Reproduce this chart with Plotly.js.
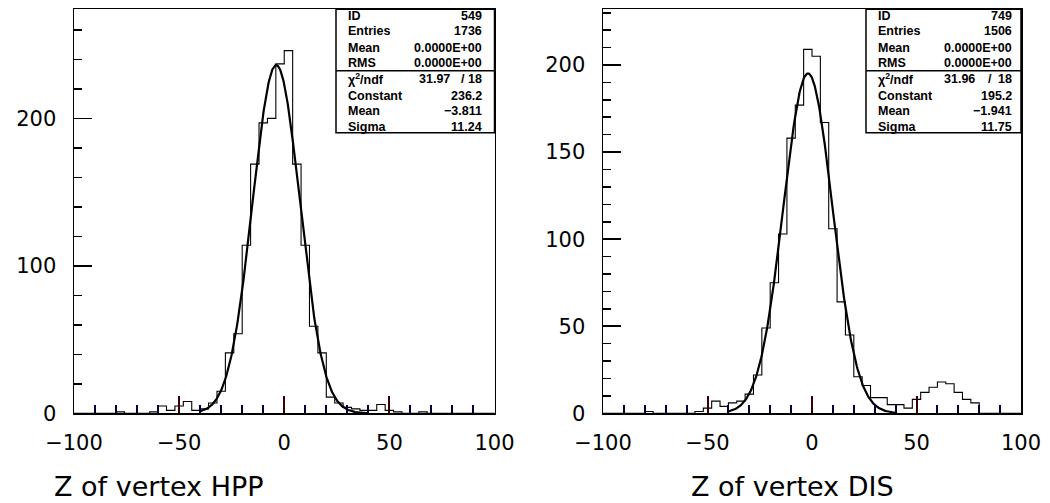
<!DOCTYPE html>
<html>
<head>
<meta charset="utf-8">
<script src="https://cdn.plot.ly/plotly-3.0.1.min.js"></script>
<style>html,body{margin:0;padding:0;background:#fff;}#chart{width:1050px;height:503px;}</style>
</head>
<body>
<div id="chart"></div>
<script>
// ---- Data ----
const binLow = -100;
const binWidth = 4;
// 50 bins from -100 to 100 (width 4)
const hppCounts = [0,0,0,0,0, 1,0,0,0,1, 5,2,5,8,2, 3,7,15,41,54, 114,169,197,200,237, 246,169,114,59,41, 11,7,4,3,2, 2,6,2,1,0, 0,1,0,0,0, 0,0,0,0,0];
const disCounts = [0,0,0,0,0, 1,0,0,0,0, 0,1,3,7,4, 6,7,11,22,49, 75,103,158,177,209, 205,167,106,64,45, 21,16,9,9,5, 5,3,8,12,15, 18,17,12,8,6, 0,0,0,0,0];
const hppFit = {constant: 236.2, mean: -3.811, sigma: 11.24};
const disFit = {constant: 195.2, mean: -1.941, sigma: 11.75};
const fitRange = [-40, 40];
const hppStats = [["ID","549"],["Entries","1736"],["Mean","0.0000E+00"],["RMS","0.0000E+00"]];
const disStats = [["ID","749"],["Entries","1506"],["Mean","0.0000E+00"],["RMS","0.0000E+00"]];
const hppChi = ["31.97","18"];
const disChi = ["31.96","18"];
const hppFitRows = [["Constant","236.2"],["Mean","-3.811"],["Sigma","11.24"]];
const disFitRows = [["Constant","195.2"],["Mean","-1.941"],["Sigma","11.75"]];
const xTitles = ["Z of vertex HPP", "Z of vertex DIS"];

// ---- helpers ----
const W = 1050, H = 503;
const px = x => x / W;
const py = y => 1 - y / H;

function stepTrace(counts, xa, ya) {
  const xs = [], ys = [];
  for (let i = 0; i < counts.length; i++) { xs.push(binLow + i * binWidth); ys.push(counts[i]); }
  xs.push(binLow + counts.length * binWidth); ys.push(counts[counts.length - 1]);
  return {x: xs, y: ys, type: 'scatter', mode: 'lines', line: {shape: 'hv', color: '#000', width: 1.1}, xaxis: xa, yaxis: ya, hoverinfo: 'skip'};
}
function fitTrace(p, xa, ya) {
  const xs = [], ys = [];
  for (let x = fitRange[0]; x <= fitRange[1] + 1e-9; x += 0.25) {
    xs.push(x); ys.push(p.constant * Math.exp(-0.5 * Math.pow((x - p.mean) / p.sigma, 2)));
  }
  return {x: xs, y: ys, type: 'scatter', mode: 'lines', line: {color: '#000', width: 2.2}, xaxis: xa, yaxis: ya, hoverinfo: 'skip'};
}

const tickFont = {family: 'DejaVu Sans', size: 21, color: '#000'};
function xAxis(l, r, ya) {
  return {domain: [px(l), px(r)], range: [-100, 100], tick0: 0, dtick: 50, ticks: 'inside', ticklen: 17, tickwidth: 2, tickcolor: '#3a0000',
    minor: {dtick: 10, ticks: 'inside', ticklen: 8, tickwidth: 2, tickcolor: '#00003a'},
    showline: true, mirror: true, linecolor: '#000', linewidth: 1.5, showgrid: false, zeroline: false,
    tickfont: tickFont, ticklabelstandoff: 10, anchor: ya};
}
function yAxis(max, dt, mdt, xa) {
  return {domain: [py(413.3), py(9.3)], range: [0, max], tick0: 0, dtick: dt, ticks: 'inside', ticklen: 18, tickwidth: 1.6, tickcolor: '#000',
    minor: {dtick: mdt, ticks: 'inside', ticklen: 8, tickwidth: 1.6, tickcolor: '#000'},
    showline: true, mirror: true, linecolor: '#000', linewidth: 1.5, showgrid: false, zeroline: false,
    tickfont: tickFont, ticklabelstandoff: 12, anchor: xa};
}

const shapes = [], annotations = [];
const statFont = {family: 'Liberation Sans', size: 12.5, color: '#000'};
function statsBox(x0, x1, labX, valX, chiValX, slashX, stats, chi, fitRows) {
  const top = 9.3, div = 70.7, bot = 132.8;
  shapes.push({type: 'rect', xref: 'paper', yref: 'paper', x0: px(x0), x1: px(x1), y0: py(bot), y1: py(top), line: {color: '#000', width: 1.5}, fillcolor: '#fff', layer: 'above'});
  shapes.push({type: 'line', xref: 'paper', yref: 'paper', x0: px(x0), x1: px(x1), y0: py(div), y1: py(div), line: {color: '#000', width: 1.5}, layer: 'above'});
  const rowsY = [15.5, 31.5, 47.5, 63.3, 79.5, 95.5, 111.3, 127];
  stats.forEach((r, i) => {
    annotations.push({xref: 'paper', yref: 'paper', x: px(labX), y: py(rowsY[i]), xanchor: 'left', yanchor: 'middle', text: '<b>' + r[0] + '</b>', showarrow: false, font: statFont});
    annotations.push({xref: 'paper', yref: 'paper', x: px(valX), y: py(rowsY[i]), xanchor: 'right', yanchor: 'middle', text: '<b>' + r[1] + '</b>', showarrow: false, font: statFont});
  });
  annotations.push({xref: 'paper', yref: 'paper', x: px(labX), y: py(rowsY[4]), xanchor: 'left', yanchor: 'middle', text: '<b>χ<sup>2</sup>/ndf</b>', showarrow: false, font: statFont});
  annotations.push({xref: 'paper', yref: 'paper', x: px(chiValX), y: py(rowsY[4]), xanchor: 'right', yanchor: 'middle', text: '<b>' + chi[0] + '</b>', showarrow: false, font: statFont});
  annotations.push({xref: 'paper', yref: 'paper', x: px(slashX), y: py(rowsY[4]), xanchor: 'center', yanchor: 'middle', text: '<b>/</b>', showarrow: false, font: statFont});
  annotations.push({xref: 'paper', yref: 'paper', x: px(valX), y: py(rowsY[4]), xanchor: 'right', yanchor: 'middle', text: '<b>' + chi[1] + '</b>', showarrow: false, font: statFont});
  fitRows.forEach((r, i) => {
    annotations.push({xref: 'paper', yref: 'paper', x: px(labX), y: py(rowsY[5 + i]), xanchor: 'left', yanchor: 'middle', text: '<b>' + r[0] + '</b>', showarrow: false, font: statFont});
    annotations.push({xref: 'paper', yref: 'paper', x: px(valX), y: py(rowsY[5 + i]), xanchor: 'right', yanchor: 'middle', text: '<b>' + r[1].replace('-', '−') + '</b>', showarrow: false, font: statFont});
  });
}
statsBox(336, 494.5, 346, 484, 452, 463, hppStats, hppChi, hppFitRows);
statsBox(866, 1021, 876, 1014, 977, 990, disStats, disChi, disFitRows);

const titleFont = {family: 'DejaVu Sans', size: 27, color: '#000'};
annotations.push({xref: 'paper', yref: 'paper', x: px(159), y: py(486), xanchor: 'center', yanchor: 'middle', text: xTitles[0], showarrow: false, font: titleFont});
annotations.push({xref: 'paper', yref: 'paper', x: px(792), y: py(486), xanchor: 'center', yanchor: 'middle', text: xTitles[1], showarrow: false, font: titleFont});

const data = [
  stepTrace(hppCounts, 'x', 'y'), fitTrace(hppFit, 'x', 'y'),
  stepTrace(disCounts, 'x2', 'y2'), fitTrace(disFit, 'x2', 'y2')
];
const layout = {
  width: W, height: H, margin: {l: 0, r: 0, t: 0, b: 0},
  paper_bgcolor: '#fff', plot_bgcolor: 'rgba(0,0,0,0)', showlegend: false,
  xaxis: xAxis(74, 494.5, 'y'),
  yaxis: yAxis(274, 100, 20, 'x'),
  xaxis2: xAxis(603, 1021, 'y2'),
  yaxis2: yAxis(232, 50, 10, 'x2'),
  shapes: shapes, annotations: annotations
};
Plotly.newPlot('chart', data, layout, {displayModeBar: false, staticPlot: true});
</script>
</body>
</html>
